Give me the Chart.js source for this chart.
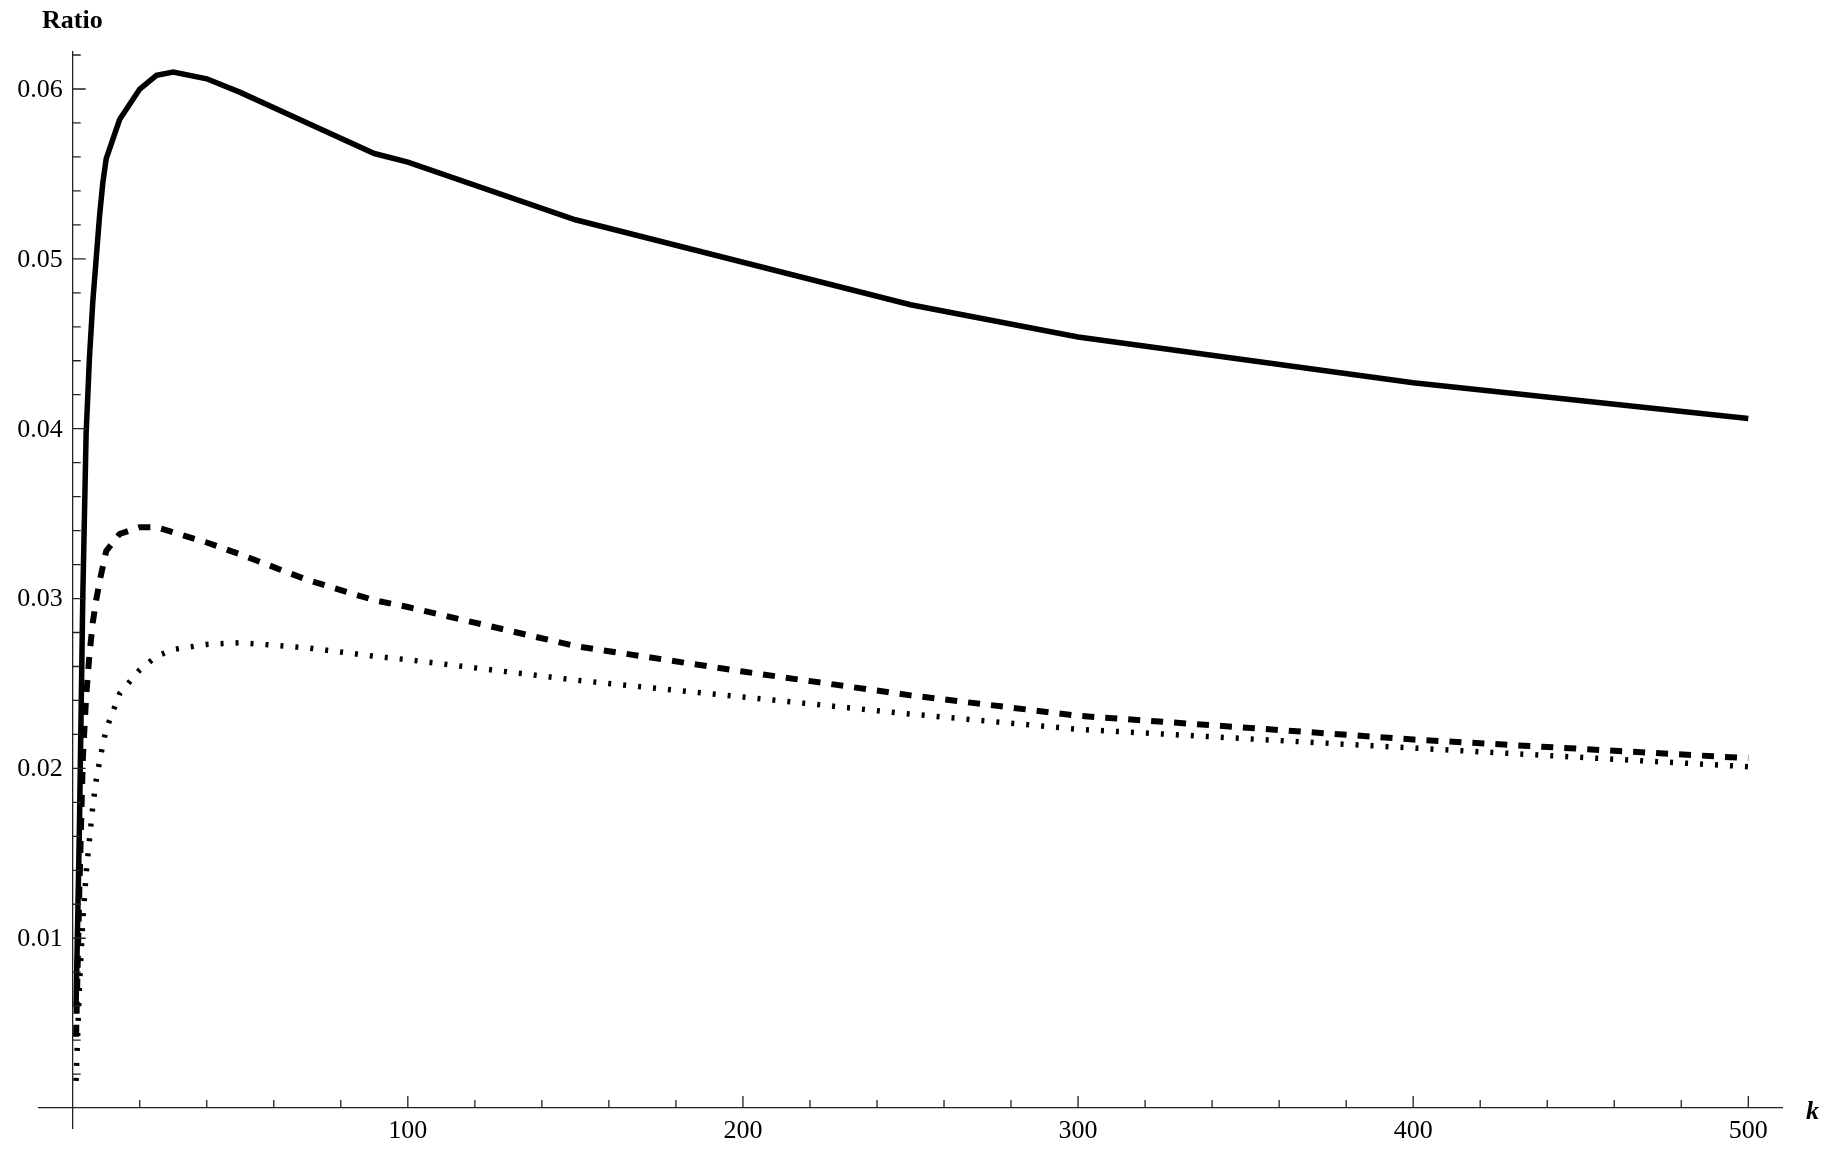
<!DOCTYPE html>
<html>
<head>
<meta charset="utf-8">
<script src="https://cdn.jsdelivr.net/npm/chart.js@4.4.1/dist/chart.umd.min.js"></script>
<style>
  html, body { margin: 0; padding: 0; background: #fff; }
  canvas { display: block; }
</style>
</head>
<body>
<canvas id="ratio-chart" width="1843" height="1159"></canvas>
<script>
// values
const kValues = [1, 2, 3, 4, 5, 6, 7, 8, 9, 10, 14, 20, 25, 30, 40, 50, 70, 90, 100, 150, 200, 250, 300, 400, 500];
const solidRatio = [0.0060, 0.0165, 0.0300, 0.0397, 0.0442, 0.0475, 0.0500, 0.0525, 0.0545, 0.0559, 0.0582, 0.0600, 0.0608, 0.0610, 0.0606, 0.0598, 0.0580, 0.0562, 0.0557, 0.0523, 0.0498, 0.0473, 0.0454, 0.0427, 0.0406];
const dashedRatio = [0.0042, 0.0130, 0.0205, 0.0242, 0.0267, 0.0286, 0.0299, 0.0310, 0.0319, 0.0328, 0.0338, 0.0342, 0.0342, 0.0339, 0.0333, 0.0326, 0.0311, 0.0299, 0.0295, 0.0272, 0.0257, 0.0243, 0.0231, 0.0217, 0.0206];
const dottedRatio = [0.0016, 0.0072, 0.0110, 0.0138, 0.0158, 0.0178, 0.0193, 0.0204, 0.0214, 0.0223, 0.0244, 0.0258, 0.0266, 0.0270, 0.0273, 0.0274, 0.0271, 0.0266, 0.0264, 0.0252, 0.0242, 0.0232, 0.0223, 0.0212, 0.0201];

const xTickLabels = [0, 100, 200, 300, 400, 500];
const yTickLabels = [0.01, 0.02, 0.03, 0.04, 0.05, 0.06];
const xMinorStep = 20;
const yMinorStep = 0.002;

const axisColor = '#222';
const serif = '"Liberation Serif", "Times New Roman", serif';

function toPoints(values) {
    return kValues.map((k, i) => ({ x: k, y: values[i] }));
}

// Mathematica style ticks (pointing inward), y labels and the axis names
const axisDecor = {
    id: 'axisDecor',
    afterDraw(chart) {
        const { ctx, scales: { x, y } } = chart;
        const x0 = x.getPixelForValue(0);
        const y0 = y.getPixelForValue(0);
        ctx.save();
        ctx.strokeStyle = axisColor;
        ctx.lineWidth = 1.3;
        ctx.beginPath();
        for (let i = 1; i * xMinorStep <= x.max; i++) {
            const px = x.getPixelForValue(i * xMinorStep);
            const len = i % 5 === 0 ? 12 : 8;
            ctx.moveTo(px, y0);
            ctx.lineTo(px, y0 - len);
        }
        for (let i = 1; i * yMinorStep <= y.max; i++) {
            const py = y.getPixelForValue(i * yMinorStep);
            const len = i % 5 === 0 ? 13 : 8;
            ctx.moveTo(x0, py);
            ctx.lineTo(x0 + len, py);
        }
        ctx.stroke();

        ctx.fillStyle = '#000';
        ctx.font = '26px ' + serif;
        ctx.textAlign = 'right';
        ctx.textBaseline = 'middle';
        yTickLabels.forEach(v => {
            ctx.fillText(v.toFixed(2), x0 - 10, y.getPixelForValue(v) + 1);
        });

        ctx.textBaseline = 'alphabetic';
        ctx.textAlign = 'left';
        ctx.font = 'bold 26px ' + serif;
        ctx.fillText('Ratio', 42, 28);
        ctx.font = 'bold italic 26px ' + serif;
        ctx.fillText('k', x.right + 24, y0 + 11);
        ctx.restore();
    }
};

document.addEventListener("DOMContentLoaded", function () {
    var ctx = document.getElementById('ratio-chart').getContext('2d');

    var chartData = {
        datasets: [{
            label: 'solid',
            data: toPoints(solidRatio),
            borderColor: '#000',
            borderWidth: 5.5
        }, {
            label: 'dashed',
            data: toPoints(dashedRatio),
            borderColor: '#000',
            borderWidth: 6,
            borderDash: [12, 11]
        }, {
            label: 'dotted',
            data: toPoints(dottedRatio),
            borderColor: '#000',
            borderWidth: 5.5,
            borderDash: [3, 12]
        }]
    };

    var options = {
        responsive: false,
        maintainAspectRatio: false,
        devicePixelRatio: 1,
        animation: false,
        layout: {
            padding: { left: 39, top: 52, right: 61, bottom: 31 }
        },
        elements: {
            line: { tension: 0, borderCapStyle: 'butt', borderJoinStyle: 'miter', fill: false },
            point: { radius: 0, hoverRadius: 0 }
        },
        plugins: {
            legend: { display: false },
            tooltip: { enabled: false },
            title: { display: false }
        },
        scales: {
            x: {
                type: 'linear',
                position: { y: 0 },
                min: -10.06,
                max: 510.06,
                afterBuildTicks: scale => { scale.ticks = xTickLabels.map(v => ({ value: v })); },
                grid: { display: false, drawTicks: false },
                border: { display: true, color: axisColor, width: 1.3 },
                ticks: {
                    color: '#000',
                    font: { family: serif, size: 26 },
                    padding: 7,
                    maxRotation: 0,
                    autoSkip: false,
                    callback: v => v === 0 ? '' : String(v)
                }
            },
            y: {
                type: 'linear',
                position: { x: 0 },
                min: -0.001172,
                max: 0.062178,
                grid: { display: false, drawTicks: false },
                border: { display: true, color: axisColor, width: 1.3 },
                ticks: { display: false }
            }
        }
    };

    new Chart(ctx, {
        type: 'line',
        data: chartData,
        options: options,
        plugins: [axisDecor]
    });
});
</script>
</body>
</html>
